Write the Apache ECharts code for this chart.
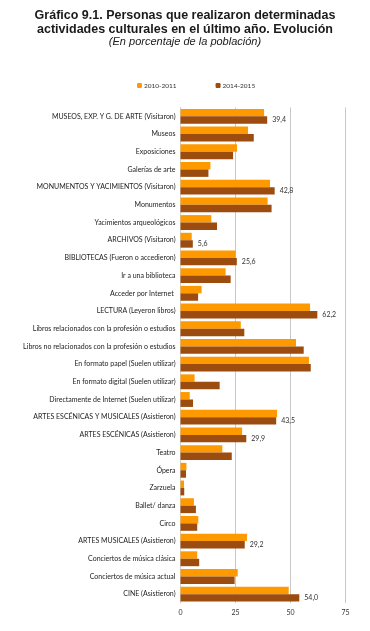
<!DOCTYPE html>
<html><head><meta charset="utf-8">
<script src="https://cdn.jsdelivr.net/npm/echarts@6/dist/echarts.min.js"></script>
<style>html,body{margin:0;padding:0;background:#fff}#c{width:370px;height:631px}</style>
</head><body><div id="c"></div>
<script>
const categories = [
  "MUSEOS, EXP. Y G. DE ARTE (Visitaron)","Museos","Exposiciones","Galerías de arte",
  "MONUMENTOS Y YACIMIENTOS (Visitaron)","Monumentos","Yacimientos arqueológicos",
  "ARCHIVOS (Visitaron)","BIBLIOTECAS (Fueron o accedieron)","Ir a una biblioteca","Acceder por Internet ",
  "LECTURA (Leyeron libros)","Libros relacionados con la profesión o estudios","Libros no relacionados con la profesión o estudios",
  "En formato papel (Suelen utilizar)","En formato digital (Suelen utilizar)","Directamente de Internet (Suelen utilizar)",
  "ARTES ESCÉNICAS Y MUSICALES (Asistieron)","ARTES ESCÉNICAS (Asistieron)","Teatro","Ópera","Zarzuela","Ballet/ danza","Circo",
  "ARTES MUSICALES (Asistieron)","Conciertos de música clásica","Conciertos de música actual","CINE (Asistieron)"
];
const series2010 = [38.0,30.7,25.7,13.6, 40.7,39.6,14.0, 5.1,25.1,20.5,9.6, 58.9,27.4,52.5, 58.4,6.4,4.2, 43.9,28.0,19.0,2.7,1.6,6.1,8.1, 30.2,7.6,26.0,49.2];
const series2014 = [39.4,33.3,23.9,12.7, 42.8,41.4,16.6, 5.6,25.6,22.8,8.0, 62.2,29.0,56.0, 59.2,17.8,5.7, 43.5,29.9,23.3,2.5,1.7,7.0,7.6, 29.2,8.5,24.6,54.0];
const labelled2014 = [true,false,false,false, true,false,false, true,true,false,false, true,false,false, false,false,false, true,true,false,false,false,false,false, true,false,false,true];
const xTicks = [0,25,50,75];
const seriesNames = ["2010-2011","2014-2015"];

const FONT = "Lato, 'Open Sans', sans-serif";
const chart = echarts.init(document.getElementById('c'), null, {renderer:'canvas'});
chart.setOption({
  animation:false,
  title:{
    text:"Gráfico 9.1. Personas que realizaron determinadas\nactividades culturales en el último año. Evolución",
    subtext:"(En porcentaje de la población)",
    left:'center', top:4, itemGap:0,
    textStyle:{fontFamily:"'Liberation Sans', Arial, sans-serif", fontWeight:'bold', fontSize:12.5, lineHeight:13.5, color:'#1a1a1a'},
    subtextStyle:{fontFamily:"'Liberation Sans', Arial, sans-serif", fontStyle:'italic', fontSize:11, color:'#1a1a1a'}
  },
  legend:{
    data:seriesNames, top:82, left:137, padding:0, itemWidth:5, itemHeight:5, itemGap:39,
    textStyle:{fontFamily:FONT, fontSize:6.5, color:'#333', padding:[0,0,0,-3]}
  },
  grid:{left:180.5, right:24.5, top:107.5, bottom:28, containLabel:false},
  xAxis:{
    type:'value', min:xTicks[0], max:xTicks[xTicks.length-1], interval:25,
    axisLine:{show:false}, axisTick:{show:false},
    axisLabel:{fontFamily:FONT, fontSize:7, color:'#333', margin:6},
    splitLine:{lineStyle:{color:'#c8c8c8', width:1}}
  },
  yAxis:{
    type:'category', data:categories, inverse:true,
    axisLine:{show:true, lineStyle:{color:'#d0d0d0'}}, axisTick:{show:false},
    axisLabel:{fontFamily:FONT, fontSize:7, color:'#222', margin:5, interval:0}
  },
  series:[
    {name:seriesNames[0], type:'bar', data:series2010, barGap:'0%', barCategoryGap:'16%',
     itemStyle:{color:'#FF9900'}},
    {name:seriesNames[1], type:'bar', data:series2014.map((v,i)=>({value:v,
       label:{show:labelled2014[i]}})), barGap:'0%', barCategoryGap:'16%',
     itemStyle:{color:'#9B4C0E'},
     label:{position:'right', distance:5, fontFamily:FONT, fontSize:7, color:'#333',
       formatter:p=>p.value.toFixed(1).replace('.',',')}}
  ]
});
</script></body></html>
